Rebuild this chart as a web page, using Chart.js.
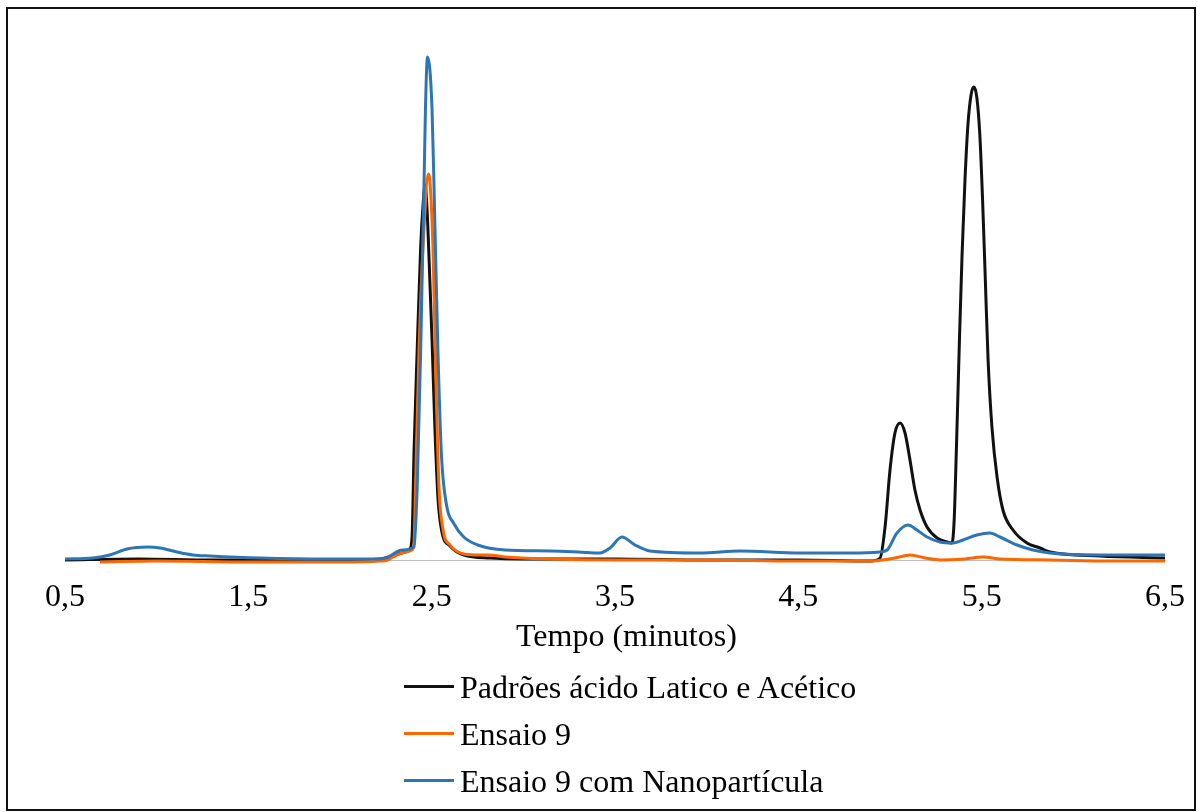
<!DOCTYPE html>
<html lang="pt">
<head>
<meta charset="utf-8">
<title>Cromatograma - Ensaio 9</title>
<script src="https://cdn.jsdelivr.net/npm/chart.js@4.4.1/dist/chart.umd.min.js"></script>
<style>
  html, body { margin: 0; padding: 0; background: #fff; }
  #wrap { position: relative; width: 1197px; height: 812px; overflow: hidden; }
  #box { position: absolute; left: 0; top: 0; width: 1197px; height: 812px; }
  #frame { position: absolute; left: 6px; top: 7px; width: 1190px; height: 804px; border: 2px solid #111; box-sizing: border-box; pointer-events: none; }
  .serif { font-family: 'Liberation Serif', 'Times New Roman', serif; font-size: 32px; color: #000; line-height: 36px; white-space: nowrap; }
  #xtitle { position: absolute; left: 516px; top: 617px; }
  #legend { position: absolute; left: 404px; top: 663px; }
  .item { display: flex; align-items: center; height: 47px; }
  .swatch { width: 50px; height: 3px; margin-right: 6px; }
</style>
</head>
<body>
<div id="wrap">
  <div id="box"><canvas id="cromatograma"></canvas></div>
  <div id="xtitle" class="serif">Tempo (minutos)</div>
  <div id="legend" class="serif"></div>
  <div id="frame"></div>
</div>
<script>
// eixo X (minutos)
const tickValues = [0.5, 1.5, 2.5, 3.5, 4.5, 5.5, 6.5];
const tickLabels = ['0,5', '1,5', '2,5', '3,5', '4,5', '5,5', '6,5'];

// Padrões ácido Latico e Acético
const padraoTempo = [0.500, 0.900, 1.300, 2.000, 2.218, 2.289, 2.338, 2.380, 2.393, 2.404, 2.421, 2.440, 2.453, 2.464, 2.475, 2.486, 2.502, 2.518, 2.535, 2.556, 2.600, 2.676, 2.818, 3.000, 3.500, 4.000, 4.500, 4.891, 4.946, 4.973, 5.000, 5.027, 5.055, 5.082, 5.109, 5.136, 5.164, 5.202, 5.257, 5.311, 5.338, 5.350, 5.362, 5.378, 5.393, 5.409, 5.425, 5.443, 5.458, 5.474, 5.490, 5.505, 5.520, 5.535, 5.556, 5.584, 5.616, 5.671, 5.747, 5.818, 5.873, 6.146, 6.500];
const padraoSinal = [0, 1, 0, 0, 1, 4, 7, 11, 23, 110, 210, 313, 355, 375, 350, 300, 220, 130, 60, 28, 14, 5, 2, 1, 1, 0, 0, -1, 2, 33, 90, 127, 137, 127, 100, 70, 50, 33, 22, 18, 17, 40, 110, 215, 305, 380, 435, 466, 473, 462, 425, 360, 280, 200, 133, 83, 50, 30, 17, 12, 8, 4, 2];

// Ensaio 9
const ensaioTempo = [0.691, 1.000, 1.500, 2.000, 2.218, 2.260, 2.289, 2.338, 2.393, 2.404, 2.412, 2.431, 2.453, 2.483, 2.507, 2.524, 2.540, 2.562, 2.600, 2.676, 2.764, 2.807, 2.900, 3.145, 3.500, 4.000, 4.500, 4.891, 5.027, 5.109, 5.191, 5.273, 5.409, 5.507, 5.600, 5.873, 6.200, 6.500];
const ensaioSinal = [-2, -1, -2, -2, -1, 0, 3, 7, 10, 18, 72, 210, 313, 386, 313, 175, 72, 30, 15, 6, 5, 5, 3, 1, 0, 0, -1, -1, 2, 5, 2, 0, 1, 3, 1, 0, -1, -1];

// Ensaio 9 com Nanopartícula
const nanoTempo = [0.500, 0.653, 0.745, 0.838, 0.953, 1.018, 1.111, 1.198, 1.291, 1.564, 1.929, 2.218, 2.262, 2.338, 2.404, 2.421, 2.440, 2.459, 2.466, 2.477, 2.502, 2.516, 2.534, 2.553, 2.582, 2.619, 2.675, 2.751, 2.900, 3.145, 3.300, 3.418, 3.473, 3.538, 3.609, 3.691, 3.964, 4.182, 4.509, 4.782, 4.946, 4.984, 5.038, 5.098, 5.147, 5.202, 5.273, 5.344, 5.398, 5.474, 5.545, 5.600, 5.693, 5.780, 5.873, 6.146, 6.500];
const nanoSinal = [1, 2, 5, 11, 13, 12, 8, 5, 4, 2, 1, 1, 3, 10, 13, 72, 210, 382, 450, 503, 451, 348, 210, 106, 54, 37, 23, 15, 10, 9, 8, 7, 12, 23, 15, 9, 7, 9, 7, 7, 8, 10, 27, 35, 30, 23, 18, 17, 20, 25, 27, 23, 15, 10, 7, 5, 5];

const serif = "'Liberation Serif', 'Times New Roman', serif";

function serie(label, tempo, sinal, cor, ordem) {
    return {
        label: label,
        data: tempo.map((t, i) => ({ x: t, y: sinal[i] })),
        borderColor: cor,
        backgroundColor: cor,
        borderWidth: 3,
        pointRadius: 0,
        cubicInterpolationMode: 'monotone',
        clip: false,
        order: ordem
    };
}

const datasets = [
    serie('Padrões ácido Latico e Acético', padraoTempo, padraoSinal, '#111111', 3),
    serie('Ensaio 9', ensaioTempo, ensaioSinal, '#ff6600', 2),
    serie('Ensaio 9 com Nanopartícula', nanoTempo, nanoSinal, '#2e75b6', 1)
];

const ctx = document.getElementById('cromatograma').getContext('2d');
new Chart(ctx, {
    type: 'line',
    data: { datasets: datasets },
    options: {
        responsive: true,
        maintainAspectRatio: false,
        animation: false,
        layout: { padding: { left: 65, right: 32, top: 20, bottom: 152 } },
        scales: {
            x: {
                type: 'linear',
                min: 0.5,
                max: 6.5,
                grid: { display: false, drawTicks: false },
                border: { display: true, color: '#bfbfbf', width: 1 },
                afterBuildTicks: (scale) => {
                    scale.ticks = tickValues.map(v => ({ value: v }));
                },
                afterFit: (scale) => {
                    scale.height = 100;
                },
                ticks: {
                    autoSkip: false,
                    maxRotation: 0,
                    padding: 12,
                    color: '#000',
                    font: { family: serif, size: 32, lineHeight: 1.6 },
                    callback: (value) => tickLabels[tickValues.indexOf(value)]
                }
            },
            y: {
                display: false,
                min: 0,
                max: 540
            }
        },
        plugins: {
            legend: { display: false },
            tooltip: { enabled: false }
        }
    }
});

// legenda em HTML, uma série por linha
const legend = document.getElementById('legend');
datasets.forEach(ds => {
    const item = document.createElement('div');
    item.className = 'item';
    const swatch = document.createElement('span');
    swatch.className = 'swatch';
    swatch.style.background = ds.borderColor;
    const text = document.createElement('span');
    text.textContent = ds.label;
    item.appendChild(swatch);
    item.appendChild(text);
    legend.appendChild(item);
});
</script>
</body>
</html>
